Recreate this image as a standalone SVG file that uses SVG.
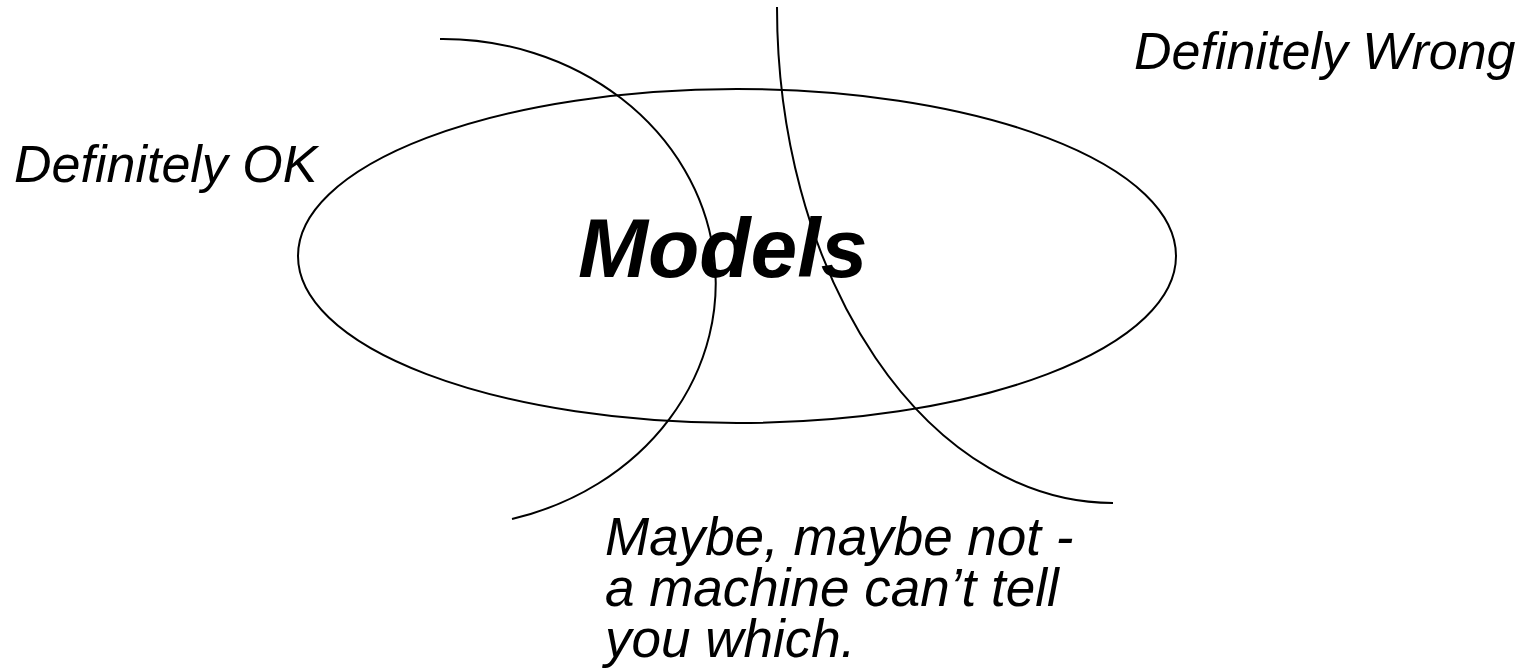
<svg xmlns="http://www.w3.org/2000/svg" width="1537" height="669" viewBox="0 0 1537 669">
<style>
.ln{fill:none;stroke:#000;stroke-width:2}
.t{font-family:"Liberation Sans",Arial,sans-serif;font-style:italic;font-size:52px;fill:#000}
.m{font-size:53px}
.big{font-family:"Liberation Sans",Arial,sans-serif;font-style:italic;font-weight:bold;font-size:84px;fill:#000}
</style>
<rect width="1537" height="669" fill="#fff"/>
<g id="models">
<ellipse class="ln" cx="737" cy="256" rx="439" ry="167"/>
<text class="big" x="578" y="277">Models</text>
</g>
<g id="connectors">
<path class="ln" d="M440 39 A273 244 0 0 1 512 519"/>
<path class="ln" d="M777 7 A336 496 0 0 0 1113 503"/>
</g>
<g id="ok"><text class="t" x="14" y="182">Definitely OK</text></g>
<g id="wrong"><text class="t" x="1134" y="69">Definitely Wrong</text></g>
<g id="maybe">
<text class="t m" x="605" y="555">Maybe, maybe not -</text>
<text class="t m" x="605" y="606">a machine can’t tell</text>
<text class="t m" x="605" y="657">you which.</text>
</g>
</svg>
